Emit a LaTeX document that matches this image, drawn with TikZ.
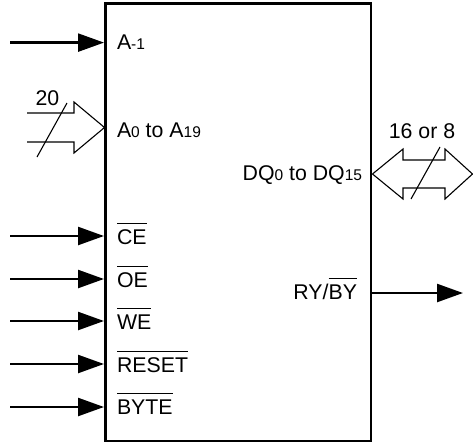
\documentclass[tikz,border=0pt]{standalone}
\usepackage{fontspec}
\setmainfont{Liberation Sans}
\usetikzlibrary{arrows.meta}
\newcommand\sbs[1]{{\fontsize{15.5}{17}\selectfont #1}}
\newcommand\ovbar[1]{\begingroup\setbox0\hbox{#1}\rlap{\vrule height 21.5pt depth -20.2pt width \wd0}\box0\endgroup}
\begin{document}
\begin{tikzpicture}[x=1pt,y=-1pt,font=\fontsize{21.3}{24}\selectfont,
  sig/.style={line width=2.4pt,-{Triangle[length=26pt,width=18pt]}},
  lbl/.style={anchor=base west,inner sep=0pt,outer sep=0pt},
  rlbl/.style={anchor=base east,inner sep=0pt,outer sep=0pt},
  num/.style={anchor=base,inner sep=0pt,outer sep=0pt},
  busline/.style={line width=1.1pt,line join=miter}]
\useasboundingbox (0,0) rectangle (473,444);
% chip body
\node[draw,line width=2.3pt,minimum width=265.5pt,minimum height=437.5pt,inner sep=0pt,outer sep=0pt] (chip) at (238.25,222.25) {};
% input start points
\coordinate (iA) at (10,42.6);
\coordinate (iCE) at (10,236);
\coordinate (iOE) at (10,279);
\coordinate (iWE) at (10,321);
\coordinate (iRS) at (10,364);
\coordinate (iBY) at (10,407);
\coordinate (oRY) at (463,293);
% input arrows
\foreach \c in {iA,iCE,iOE,iWE,iRS,iBY}
  \draw[sig,shorten >=1.5pt] (\c) -- (\c -| chip.west);
\draw[sig] (chip.east |- oRY) -- (oRY);
% labels
\node[lbl] (lA) at (117,49) {A\sbs{-1}};
\node[lbl] (lAddr) at (117,137) {A\sbs{0} to A\sbs{19}};
\node[lbl] (lCE) at (117,244) {\ovbar{CE}};
\node[lbl] (lOE) at (117,287) {\ovbar{OE}};
\node[lbl] (lWE) at (117,329.5) {\ovbar{WE}};
\node[lbl] (lRS) at (117,372.5) {\ovbar{RESET}};
\node[lbl] (lBY) at (117,414.5) {\ovbar{BYTE}};
\node[rlbl] (lDQ) at (362,180) {DQ\sbs{0} to DQ\sbs{15}};
\node[rlbl] (lRY) at (357,299) {RY/\ovbar{BY}};
% address bus (hollow arrow)
\draw[busline] (27,113) -- (74,113) -- (74,102) -- (104.5,127.5) -- (74,153) -- (74,142) -- (27,142);
\draw[line width=1.1pt] (37,157) -- (67,103);
\node[num] (n20) at (47.5,105) {20};
% data bus (double hollow arrow)
\draw[busline] (372.5,174) -- (403,149) -- (403,160) -- (445,160) -- (445,149) -- (472.5,174) -- (445,199) -- (445,188) -- (403,188) -- (403,199) -- cycle;
\draw[line width=1.1pt] (411,199) -- (440,147);
\node[num] (n16) at (422,138.3) {16 or 8};
\end{tikzpicture}
\end{document}
